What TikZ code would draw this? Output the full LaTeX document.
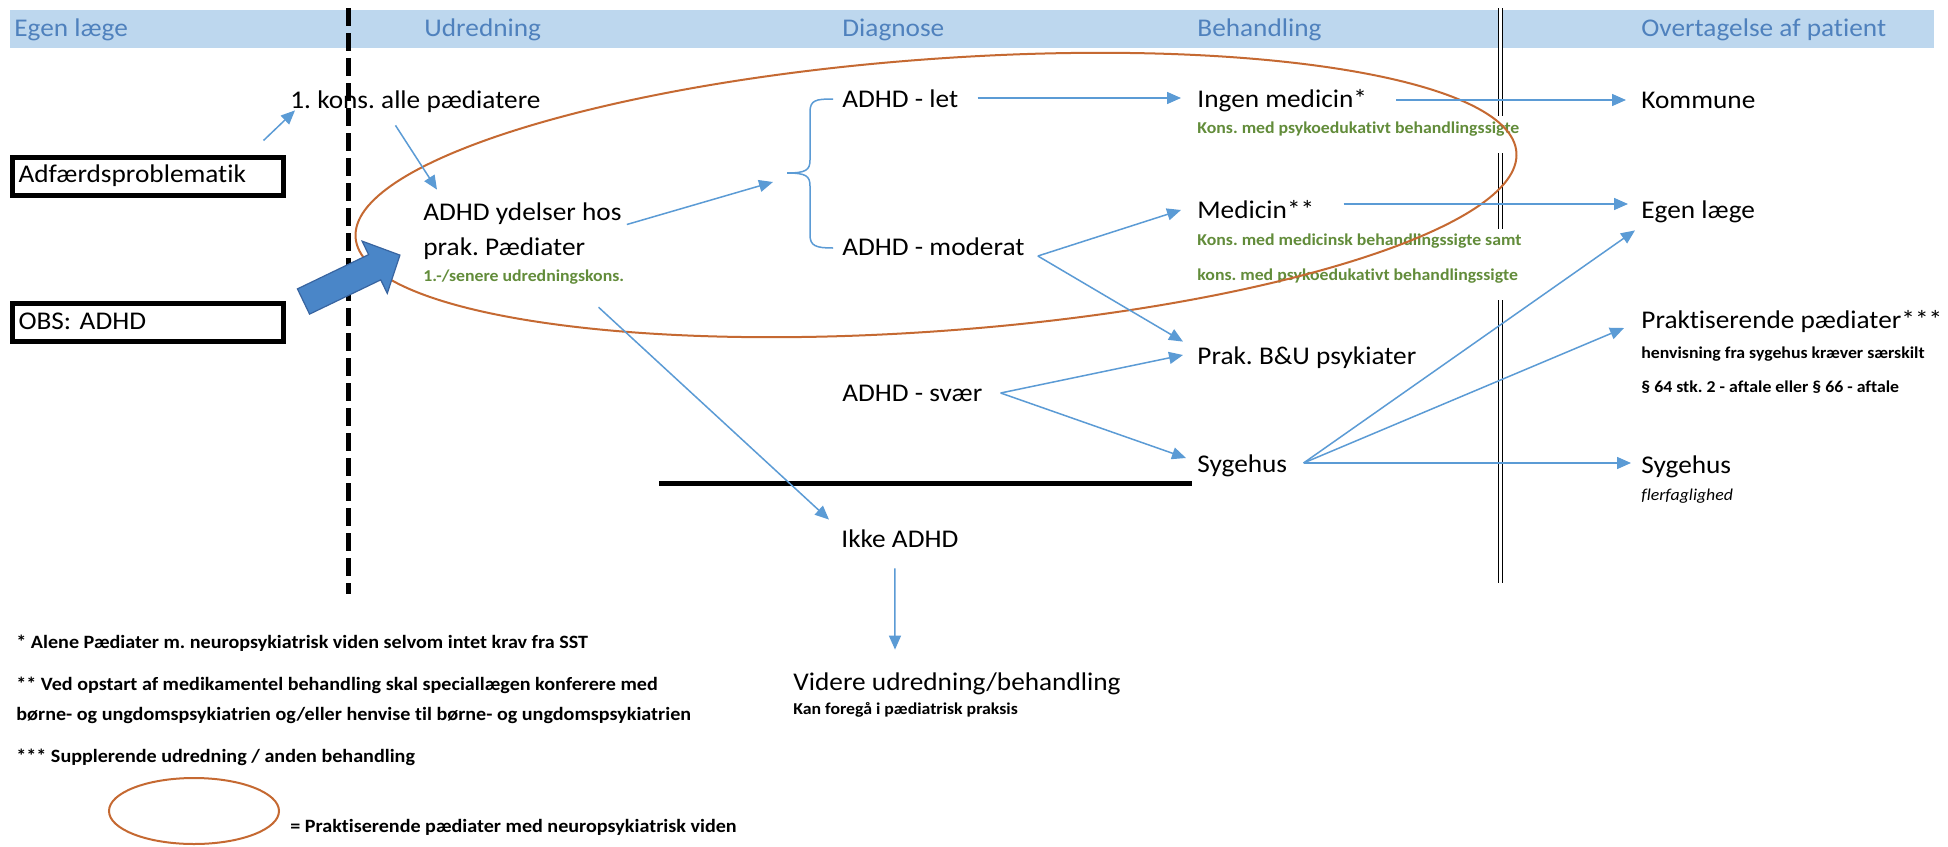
\documentclass[tikz,border=0pt]{standalone}
\usepackage{fontspec}
\setmainfont{Carlito}[FakeStretch=1.07, Ligatures={NoCommon}]
\usetikzlibrary{arrows.meta,calc}
\definecolor{bandblue}{RGB}{189,215,238}
\definecolor{hdrblue}{RGB}{79,129,189}
\definecolor{arrblue}{RGB}{91,155,213}
\definecolor{grn}{RGB}{98,140,58}
\definecolor{ellorange}{RGB}{197,105,50}
\definecolor{blkfill}{RGB}{74,134,200}
\definecolor{blkdraw}{RGB}{56,100,160}
\newcommand{\mainsz}{\fontsize{12.75pt}{15pt}\selectfont}
\newcommand{\smallsz}{\fontsize{8.3pt}{10pt}\selectfont\bfseries}
\newcommand{\notesz}{\fontsize{9.4pt}{11pt}\selectfont\bfseries}
\tikzset{
  txt/.style={anchor=base west, inner sep=0pt, font=\mainsz, text height=9pt, text depth=2.5pt},
  hdrtxt/.style={txt, text=hdrblue},
  subgreen/.style={anchor=base west, inner sep=0pt, font=\smallsz, text=grn},
  smallblack/.style={anchor=base west, inner sep=0pt, font=\smallsz},
  notetxt/.style={anchor=base west, inner sep=0pt, font=\notesz},
  conn/.style={draw=arrblue, line width=0.75pt, -{Triangle[length=7pt,width=6pt]}},
  thickbox/.style={draw, line width=2.5pt, anchor=north west, inner xsep=3.25pt, inner ysep=0pt,
    text width=129pt, align=left, minimum height=19pt, font=\mainsz, text height=9pt, text depth=2.5pt},
  divider/.style={line width=0.7pt, double distance=1.5pt, double=white},
  ovalline/.style={draw=ellorange, line width=1pt}
}
\begin{document}
\frenchspacing
\begin{tikzpicture}[x=0.5pt,y=-0.5pt]
\useasboundingbox (0,0) rectangle (1948,846);
\fill[white] (0,0) rectangle (1948,846);
% header band
\fill[bandblue] (10,10) rectangle (1934,48);
\node[hdrtxt] (h1) at (14,36) {Egen læge};
\node[hdrtxt] (h2) at (424,36) {Udredning};
\node[hdrtxt] (h3) at (842,36) {Diagnose};
\node[hdrtxt] (h4) at (1197,36) {Behandling};
\node[hdrtxt] (h5) at (1641,36) {Overtagelse af patient};
% separators
\draw[line width=2.5pt, dash pattern=on 9pt off 3.5pt] (348,8) -- (348,594);
\draw[divider] (1500.5,8) -- (1500.5,116);
\draw[divider] (1500.5,153) -- (1500.5,229);
\draw[divider] (1500.5,300) -- (1500.5,583);
\draw[line width=2.5pt] (659,483) -- (1192,483);
% boxes
\node[thickbox] (adf) at (9.5,154.5) {Adfærdsproblematik};
\node[thickbox] (obs) at (9.5,301) {OBS: ADHD};
% texts
\node[txt] (kons) at (290,108) {1. kons. alle pædiatere};
\node[txt] (ydel1) at (423,220) {ADHD ydelser hos};
\node[txt] (ydel2) at (423,255) {prak. Pædiater};
\node[subgreen] (ydelsub) at (423,281) {1.-/senere udredningskons.};
\node[txt] (let) at (842,107) {ADHD - let};
\node[txt] (mod) at (842,255) {ADHD - moderat};
\node[txt] (svaer) at (842,401) {ADHD - svær};
\node[txt] (ikke) at (841,547) {Ikke ADHD};
\node[txt] (videre) at (793,690) {Videre udredning/behandling};
\node[smallblack] (videresub) at (793,714) {Kan foregå i pædiatrisk praksis};
\node[txt] (ingen) at (1197,107) {Ingen medicin*};
\node[subgreen] (ingensub) at (1197,133) {Kons. med psykoedukativt behandlingssigte};
\node[txt] (med) at (1197,218) {Medicin**};
\node[subgreen] (medsub1) at (1197,245) {Kons. med medicinsk behandlingssigte samt};
\node[subgreen] (medsub2) at (1197,280) {kons. med psykoedukativt behandlingssigte};
\node[txt] (prak) at (1197,364) {Prak. B\&U psykiater};
\node[txt] (syg) at (1197,472) {Sygehus};
\node[txt] (komm) at (1641,108) {Kommune};
\node[txt] (egen) at (1641,218) {Egen læge};
\node[txt] (prakped) at (1641,328) {Praktiserende pædiater***};
\node[smallblack] (henv1) at (1641,358) {henvisning fra sygehus kræver særskilt};
\node[smallblack] (henv2) at (1641,392) {§ 64 stk. 2 - aftale eller § 66 - aftale};
\node[txt] (syg2) at (1641,473) {Sygehus};
\node[anchor=base west, inner sep=0pt, font=\fontsize{8.3pt}{10pt}\selectfont\itshape] (fler) at (1641,500) {flerfaglighed};
% footnotes
\node[notetxt] (fn1) at (16,648) {* Alene Pædiater m. neuropsykiatrisk viden selvom intet krav fra SST};
\node[notetxt] (fn2) at (16,690) {** Ved opstart af medikamentel behandling skal speciallægen konferere med};
\node[notetxt] (fn3) at (16,720) {børne- og ungdomspsykiatrien og/eller henvise til børne- og ungdomspsykiatrien};
\node[notetxt] (fn4) at (16,762) {*** Supplerende udredning / anden behandling};
\node[notetxt] (legtxt) at (290,832) {= Praktiserende pædiater med neuropsykiatrisk viden};
% brace
\coordinate (bt) at (787,173);
\draw[arrblue, line width=0.75pt] (833,99) .. controls (816,99) and (810,100) .. (810,112) -- (810,160)
  .. controls (810,170) and (806,173) .. (bt) .. controls (806,173) and (810,176) .. (810,186)
  -- (810,235) .. controls (810,246) and (816,248) .. (833,248);
% ovals
\draw[ovalline, rotate around={4.2:(936,195)}] (936,195) ellipse [x radius=582, y radius=136];
\draw[ovalline] (194,811) ellipse [x radius=85, y radius=33];
% block arrow
\begin{scope}[shift={(303.5,301.5)}, rotate=25.7]
  \filldraw[fill=blkfill, draw=blkdraw, line width=0.6pt] (0,-14) -- (79,-14) -- (79,-29) -- (107,0)
    -- (79,29) -- (79,14) -- (0,14) -- cycle;
\end{scope}
% connectors
\draw[conn] ($(adf.north east)+(-22,-14)$) -- ($(kons.south west)+(5,-3)$);
\draw[conn] ($(kons.south)+(-20,12)$) -- ($(ydel1.north west)+(14,-12)$);
\draw[conn] ($(ydel1.east)+(5,11)$) -- ($(bt)+(-14,9)$);
\draw[conn] ($(let.east)+(19,-2.5)$) -- ($(ingen.west)+(-16,-2.5)$);
\draw[conn] ($(ingen.east)+(29,-0.5)$) -- ($(komm.west)+(-15,-1.5)$);
\draw[conn] ($(med.east)+(29,-7.5)$) -- ($(egen.west)+(-13,-7.5)$);
\draw[conn] ($(mod.east)+(13,7.5)$) -- ($(med.west)+(-16,-1.5)$);
\draw[conn] ($(mod.east)+(13,7.5)$) -- ($(prak.north west)+(-14,-4)$);
\draw[conn] ($(svaer.east)+(18,-1.5)$) -- ($(prak.west)+(-14,-2.5)$);
\draw[conn] ($(svaer.east)+(18,-1.5)$) -- ($(syg.west)+(-11,-7.5)$);
\draw[conn] ($(syg.east)+(16,-2.5)$) -- ($(egen.south west)+(-6,7)$);
\draw[conn] ($(syg.east)+(16,-2.5)$) -- ($(prakped.west)+(-17,6.5)$);
\draw[conn] ($(syg.east)+(16,-2.5)$) -- ($(syg2.west)+(-10,-3.5)$);
\draw[conn] ($(ydelsub.south east)+(-26,23)$) -- ($(ikke.north west)+(-12,-9)$);
\draw[conn] ($(ikke.south)+(-5,16)$) -- ($(videre.north west)+(102,-22)$);
\end{tikzpicture}
\end{document}
